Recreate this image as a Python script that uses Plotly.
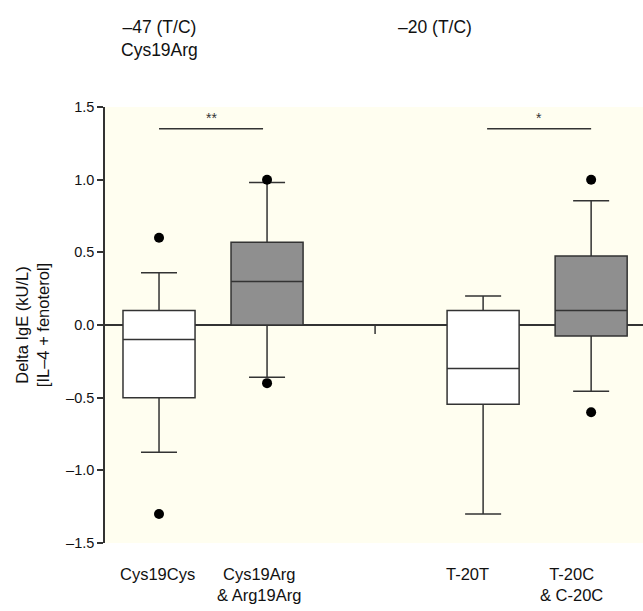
import plotly.graph_objects as go

# ---- data ----
categories = ["Cys19Cys", "Cys19Arg<br>& Arg19Arg", "T-20T", "T-20C<br>& C-20C"]
positions = [1, 2, 4, 5]
q1 = [-0.50, 0.00, -0.545, -0.075]
median = [-0.10, 0.30, -0.30, 0.10]
q3 = [0.10, 0.57, 0.10, 0.475]
lower_whisker = [-0.875, -0.36, -1.30, -0.455]
upper_whisker = [0.36, 0.98, 0.20, 0.855]
outlier_x = [1, 1, 2, 2, 5, 5]
outlier_y = [0.60, -1.30, 1.00, -0.40, 1.00, -0.60]
white_idx = [0, 2]
gray_idx = [1, 3]
label_x = [0.99, 1.926, 3.86, 4.815]
group_titles = ["–47 (T/C)<br>Cys19Arg", "–20 (T/C)"]
group_title_x = [1.0, 3.556]
sig_pairs = [(1.0, 1.963), (4.037, 5.0)]
sig_text = ["**", "*"]
sig_y = 1.35
y_tickvals = [-1.5, -1.0, -0.5, 0.0, 0.5, 1.0, 1.5]
y_ticktext = ["–1.5", "–1.0", "–0.5", "0.0", "0.5", "1.0", "1.5"]
empty_slot = 3

FONT = "Liberation Sans, Arial, sans-serif"
DARK = "#333333"

fig = go.Figure()

def add_box(idx, fill):
    fig.add_trace(go.Box(
        x=[positions[i] for i in idx],
        q1=[q1[i] for i in idx],
        median=[median[i] for i in idx],
        q3=[q3[i] for i in idx],
        lowerfence=[lower_whisker[i] for i in idx],
        upperfence=[upper_whisker[i] for i in idx],
        width=0.667,
        whiskerwidth=0.5,
        fillcolor=fill,
        line=dict(color=DARK, width=1.5),
        boxpoints=False,
        hoverinfo="skip",
        showlegend=False,
    ))

add_box(white_idx, "#FFFFFF")
add_box(gray_idx, "#8F8F8F")

fig.add_trace(go.Scatter(
    x=outlier_x, y=outlier_y, mode="markers",
    marker=dict(color="black", size=10),
    hoverinfo="skip", showlegend=False,
))

# significance bars
for (xa, xb), txt in zip(sig_pairs, sig_text):
    fig.add_trace(go.Scatter(
        x=[xa, xb], y=[sig_y, sig_y], mode="lines",
        line=dict(color=DARK, width=1.5),
        hoverinfo="skip", showlegend=False,
    ))
    fig.add_annotation(x=(xa + xb) / 2, y=sig_y, yshift=1, text=txt,
                       showarrow=False, yanchor="bottom",
                       font=dict(family=FONT, size=14, color=DARK))

# tick mark at the empty slot
fig.add_shape(type="line", xref="x", yref="y", x0=empty_slot, x1=empty_slot,
              ysizemode="pixel", yanchor=0, y0=0, y1=-9,
              line=dict(color=DARK, width=1.5))

# category labels below
for xl, lab in zip(label_x, categories):
    fig.add_annotation(x=xl, y=-0.047, xref="x", yref="paper", text=lab,
                       showarrow=False, yanchor="top", align="center",
                       font=dict(family=FONT, size=16.5, color="#111111"))

# group titles above
for xg, t in zip(group_title_x, group_titles):
    fig.add_annotation(x=xg, y=1.21, xref="x", yref="paper", text=t,
                       showarrow=False, yanchor="top", align="center",
                       font=dict(family=FONT, size=17.5, color="#111111"))

fig.update_layout(
    width=643, height=611,
    margin=dict(l=105, r=0, t=107, b=68),
    plot_bgcolor="#FFFEF0",
    paper_bgcolor="white",
    font=dict(family=FONT, color="#111111"),
    boxmode="overlay",
    xaxis=dict(range=[0.5, 5.48], showticklabels=False, showgrid=False,
               zeroline=False, showline=False, ticks=""),
    yaxis=dict(range=[-1.5, 1.5], tickvals=y_tickvals, ticktext=y_ticktext,
               showgrid=False, zeroline=True, zerolinecolor=DARK, zerolinewidth=1.5,
               showline=True, linecolor=DARK, linewidth=1.5,
               ticks="outside", ticklen=6, tickwidth=1.5, tickcolor=DARK,
               tickfont=dict(family=FONT, size=14.5, color="#111111"),
               title=dict(text="Delta IgE (kU/L)<br>[IL–4 + fenoterol]",
                          font=dict(family=FONT, size=16.5, color="#111111"),
                          standoff=12)),
)

fig.write_html(
    "out.html",
    config={"displayModeBar": False},
    post_script="document.body.style.margin='0px';document.body.style.overflow='hidden';",
)
